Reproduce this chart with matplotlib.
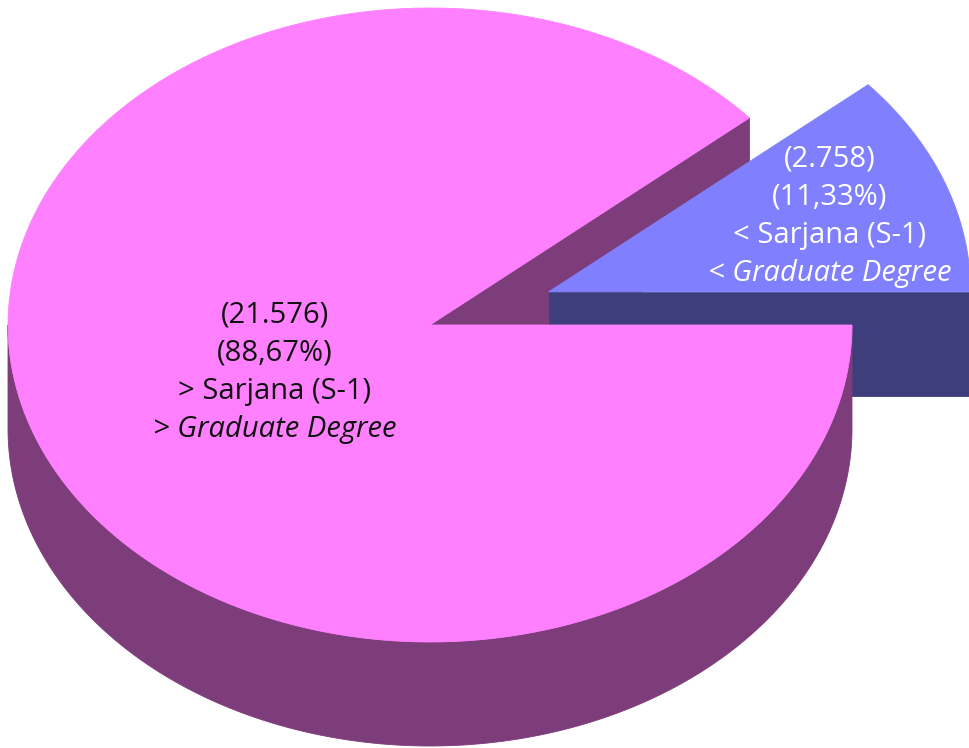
import numpy as np
import matplotlib
matplotlib.use("Agg")
import matplotlib.pyplot as plt
from matplotlib.patches import Polygon

# data
counts = [21576, 2758]
level_labels = ["> Sarjana (S-1)", "< Sarjana (S-1)"]
degree_labels = ["> Graduate Degree", "< Graduate Degree"]

top_colors = ["#FF80FF", "#8080FF"]
side_colors = ["#7D3C7A", "#3F3E7C"]
text_colors = ["#111111", "#FFFFFF"]

# pixel geometry of the 3d pie
cx, cy = 430, 325
a, b = 422, 317
depth = 104
explode = 0.30

total = sum(counts)
fracs = [c / total for c in counts]
t_small = 360 * fracs[1]


def pt(t, ox=0.0, oy=0.0, dz=0.0):
    r = np.deg2rad(t)
    return (cx + ox + a * np.cos(r), cy + oy - b * np.sin(r) + dz)


def arc(t0, t1, ox=0.0, oy=0.0, dz=0.0, n=200):
    ts = np.linspace(t0, t1, n)
    return [pt(t, ox, oy, dz) for t in ts]


fig = plt.figure(figsize=(9.7, 7.48), dpi=100)
ax = fig.add_axes([0, 0, 1, 1])
ax.set_xlim(0, 970)
ax.set_ylim(748, 0)
ax.axis("off")


def poly(pts, color, z):
    ax.add_patch(Polygon(pts, closed=True, facecolor=color, edgecolor=color,
                         linewidth=0.6, zorder=z))


# exploded small slice offset
mid = np.deg2rad(t_small / 2)
ox = explode * a * np.cos(mid)
oy = -explode * b * np.sin(mid)

# big slice: cut face at t_small
p1 = pt(t_small)
poly([(cx, cy), p1, (p1[0], p1[1] + depth), (cx, cy + depth)], side_colors[0], 1)

# small slice: front cut face at angle 0
q0 = pt(0, ox, oy)
poly([(cx + ox, cy + oy), q0, (q0[0], q0[1] + depth), (cx + ox, cy + oy + depth)],
     side_colors[1], 2)

# big slice: outer wall (front half)
wall = arc(180, 360) + arc(360, 180, dz=depth)
poly(wall, side_colors[0], 3)

# big slice: top face
poly([(cx, cy)] + arc(t_small, 360), top_colors[0], 4)

# small slice: top face
poly([(cx + ox, cy + oy)] + arc(0, t_small, ox, oy), top_colors[1], 5)

# labels
font = ["Open Sans", "DejaVu Sans"]
fs = 21
spacing = 38
label_pos = [(275, 315), (830, 159)]
for i in range(2):
    x0, y0 = label_pos[i]
    count_txt = "({})".format(f"{counts[i]:,}".replace(",", "."))
    pct_txt = "({}%)".format(f"{fracs[i] * 100:.2f}".replace(".", ","))
    lines = [count_txt, pct_txt, level_labels[i], degree_labels[i]]
    for k, line in enumerate(lines):
        ax.text(x0, y0 + k * spacing, line, ha="center", va="center",
                fontsize=fs, family=font, color=text_colors[i],
                style="italic" if k == 3 else "normal", zorder=10)

fig.savefig("out.png", dpi=100)
